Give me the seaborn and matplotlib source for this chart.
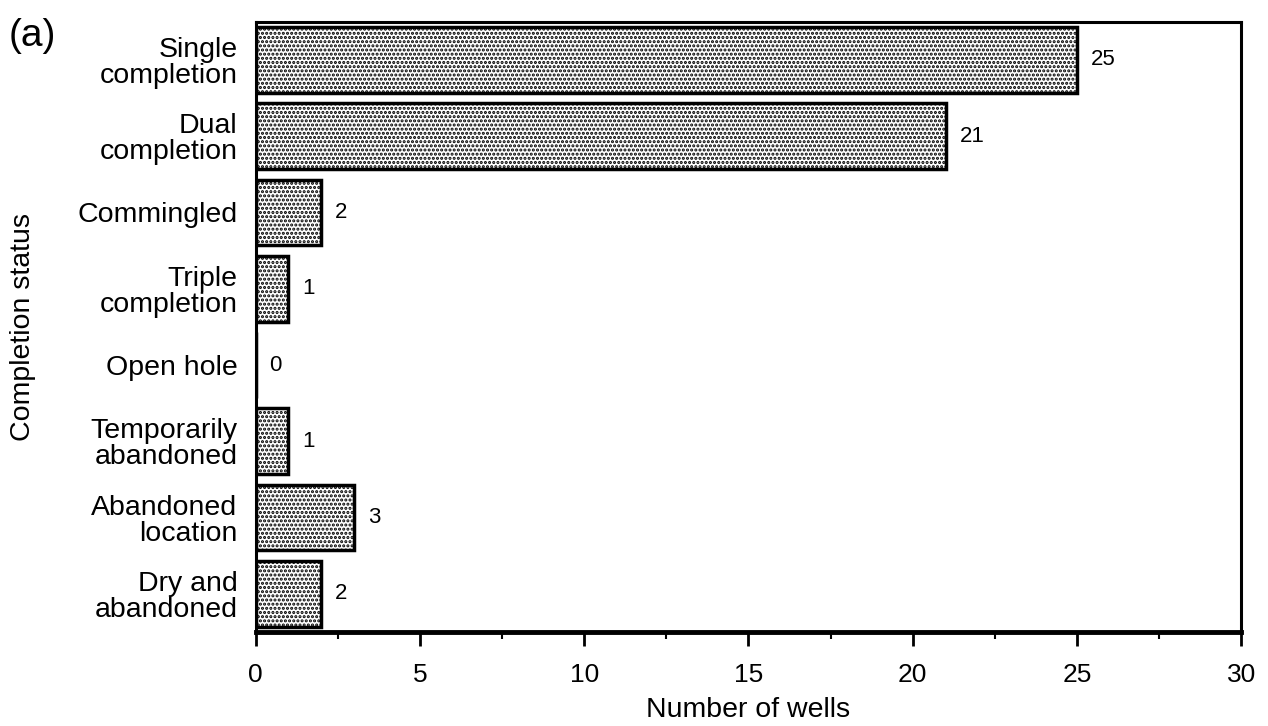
import matplotlib
matplotlib.use("Agg")
import matplotlib.pyplot as plt
import seaborn as sns
import pandas as pd
from matplotlib.ticker import MultipleLocator

categories = ["Single\ncompletion", "Dual\ncompletion", "Commingled", "Triple\ncompletion",
              "Open hole", "Temporarily\nabandoned", "Abandoned\nlocation", "Dry and\nabandoned"]
wells = [25, 21, 2, 1, 0, 1, 3, 2]
x_ticks = [0, 5, 10, 15, 20, 25, 30]

df = pd.DataFrame({"status": categories, "wells": wells})

sns.set_theme(style="white")
plt.rcParams["font.family"] = ["Liberation Sans", "DejaVu Sans"]
plt.rcParams["hatch.linewidth"] = 1.5
plt.rcParams["text.color"] = "black"
plt.rcParams["axes.labelcolor"] = "black"
plt.rcParams["xtick.color"] = "black"
plt.rcParams["ytick.color"] = "black"

fig = plt.figure(figsize=(12.68, 7.26), dpi=100)
ax = fig.add_axes([0.2015, 0.1295, 0.7775, 0.8405])

sns.barplot(data=df, y="status", x="wells", orient="h", ax=ax, color="white",
            edgecolor="black", linewidth=2.5, width=0.86)

for p in ax.patches:
    p.set_facecolor("white")
    p.set_edgecolor("black")
    p.set_hatch("....")

for i, v in enumerate(wells):
    ax.annotate(str(v), xy=(v, i), xytext=(10, 0), textcoords="offset points",
                va="center", ha="left", fontsize=16, color="black")

ax.set_xlim(0, 30)
ax.set_ylim(7.5, -0.5)
ax.set_xticks(x_ticks)
ax.set_xticklabels([str(t) for t in x_ticks], fontsize=19)
ax.xaxis.set_minor_locator(MultipleLocator(2.5))
ax.tick_params(axis="x", which="major", direction="out", length=10, width=2, pad=12, bottom=True)
ax.tick_params(axis="x", which="minor", direction="out", length=5, width=1.5, bottom=True)
ax.tick_params(axis="y", length=0, pad=13)
for lab in ax.get_yticklabels():
    lab.set_fontsize(20.5)
    lab.set_linespacing(1.0)
    lab.set_ha("right")

for s in ax.spines.values():
    s.set_visible(True)
    s.set_color("black")
    s.set_linewidth(2.2)
ax.spines["bottom"].set_linewidth(3.5)

ax.set_xlabel("Number of wells", fontsize=20.5)
ax.set_ylabel("Completion status", fontsize=20.5)
ax.xaxis.set_label_coords(0.5, -0.107)
ax.yaxis.set_label_coords(-0.223, 0.5)
ax.grid(False)

fig.text(0.007, 0.975, "(a)", fontsize=28, va="top", ha="left")

fig.savefig("out.png", dpi=100)
